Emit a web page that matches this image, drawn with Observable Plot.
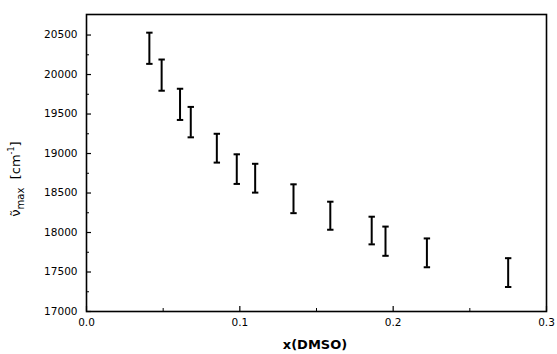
<!DOCTYPE html>
<html>
<head>
<meta charset="utf-8">
<script src="https://cdn.jsdelivr.net/npm/d3@7"></script>
<script src="https://cdn.jsdelivr.net/npm/@observablehq/plot@0.6"></script>
<style>
  html, body { margin: 0; padding: 0; background: #fff; }
</style>
</head>
<body>
<div id="chart"></div>
<script>
// Mole fraction of DMSO
const xDMSO = [0.041, 0.049, 0.061, 0.068, 0.085, 0.098, 0.110, 0.135, 0.159, 0.186, 0.195, 0.222, 0.275];
// Error bar upper and lower limits of nu_max (cm^-1)
const nuHigh = [20530, 20190, 19820, 19590, 19250, 18990, 18870, 18610, 18390, 18200, 18075, 17925, 17675];
const nuLow  = [20135, 19795, 19425, 19205, 18885, 18615, 18505, 18245, 18035, 17850, 17705, 17560, 17310];

const xTicks = [0, 0.1, 0.2, 0.3];
const xMinor = [0.05, 0.15, 0.25];
const yTicks = [17000, 17500, 18000, 18500, 19000, 19500, 20000, 20500];
const yMinor = [17250, 17750, 18250, 18750, 19250, 19750, 20250];

const data = xDMSO.map((x, i) => ({x, hi: nuHigh[i], lo: nuLow[i]}));

const W = 557, H = 354;
const mL = 86, mR = 11, mT = 14, mB = 43;
const innerW = W - mL - mR, innerH = H - mT - mB;

const cap = {
  draw(ctx) { ctx.moveTo(-3.2, 0); ctx.lineTo(3.2, 0); }
};

const chart = Plot.plot({
  width: W,
  height: H,
  marginLeft: mL,
  marginRight: mR,
  marginTop: mT,
  marginBottom: mB,
  style: {fontFamily: "DejaVu Sans, Arial, sans-serif", fontSize: "10.5px", color: "#000", background: "#fff"},
  x: {domain: [0, 0.3]},
  y: {domain: [17000, 20760]},
  marks: [
    Plot.axisX({ticks: xTicks, tickSize: 0, tickPadding: 7, tickFormat: d3.format(".1f"), label: null}),
    Plot.axisY({ticks: yTicks, tickSize: 0, tickPadding: 9, tickFormat: d => String(d), label: null}),
    Plot.tickY(yTicks, {y: d => d, insetRight: innerW - 5, stroke: "#000", strokeWidth: 1.2}),
    Plot.tickY(yMinor, {y: d => d, insetRight: innerW - 3, stroke: "#000", strokeWidth: 1}),
    Plot.tickX(xTicks, {x: d => d, insetTop: innerH - 5, stroke: "#000", strokeWidth: 1.2}),
    Plot.tickX(xMinor, {x: d => d, insetTop: innerH - 3, stroke: "#000", strokeWidth: 1}),
    Plot.frame({stroke: "#000", strokeWidth: 1.6}),
    Plot.ruleX(data, {x: "x", y1: "lo", y2: "hi", stroke: "#000", strokeWidth: 2}),
    Plot.dot(data, {x: "x", y: "hi", symbol: cap, stroke: "#000", fill: "none", strokeWidth: 2}),
    Plot.dot(data, {x: "x", y: "lo", symbol: cap, stroke: "#000", fill: "none", strokeWidth: 2})
  ]
});

const svg = d3.select(chart);
// X axis label
svg.append("text")
  .attr("x", 315).attr("y", 349)
  .attr("text-anchor", "middle")
  .attr("font-family", "DejaVu Sans, Arial, sans-serif")
  .attr("font-size", 13)
  .attr("font-weight", "bold")
  .attr("fill", "#000")
  .text("x(DMSO)");

// Y axis label (rotated)
const yl = svg.append("text")
  .attr("transform", "translate(20,179) rotate(-90)")
  .attr("text-anchor", "middle")
  .attr("font-family", "DejaVu Sans, Arial, sans-serif")
  .attr("font-size", 13)
  .attr("fill", "#000");
yl.append("tspan").text("\u03BD\u0303");
yl.append("tspan").attr("font-size", 10).attr("dy", 4).text("max");
yl.append("tspan").attr("dy", -4).text("  [cm");
yl.append("tspan").attr("font-size", 8).attr("dy", -6).text("-1");
yl.append("tspan").attr("dy", 6).text("]");

document.getElementById("chart").appendChild(chart);
</script>
</body>
</html>
